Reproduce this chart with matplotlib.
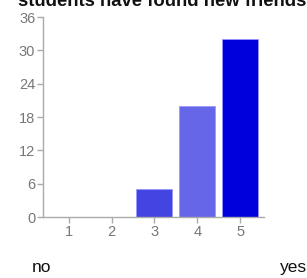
import matplotlib
matplotlib.use("Agg")
import matplotlib.pyplot as plt

# survey answers 1..5, number of students
scale = [1, 2, 3, 4, 5]
counts = [0, 0, 5, 20, 32]
bar_cols = ['#4040e0', '#4040e0', '#4444e2', '#6666e8', '#0000dd']
yticks = [0, 6, 12, 18, 24, 30, 36]
title = "students have found new friends"

plt.rcParams['font.family'] = ['Liberation Sans', 'DejaVu Sans']

fig = plt.figure(figsize=(3.07, 2.78), dpi=100)
ax = fig.add_axes([0.140, 0.2194, 0.720, 0.7194])

ax.bar(scale, counts, width=0.84, color=bar_cols, edgecolor='#9999ff', linewidth=0.6)

ax.set_xlim(0.4, 5.56)
ax.set_ylim(0, 36)
ax.set_xticks(scale)
ax.set_yticks(yticks)

for s in ['top', 'right']:
    ax.spines[s].set_visible(False)
for s in ['left', 'bottom']:
    ax.spines[s].set_color('#aaaaaa')
    ax.spines[s].set_linewidth(1)
ax.tick_params(colors='#aaaaaa', labelcolor='#777777', labelsize=10.5, length=4, width=1, pad=1.5)

fig.text(18/307, 1 - 6/278, title, fontsize=13.3, fontweight='bold', color='#111111', va='baseline', ha='left')
fig.text(32/307, 1 - 272/278, "no", fontsize=12.5, color='#111111', va='baseline', ha='left')
fig.text(280/307, 1 - 272/278, "yes", fontsize=12.5, color='#111111', va='baseline', ha='left')

fig.savefig("out.png", dpi=100)
